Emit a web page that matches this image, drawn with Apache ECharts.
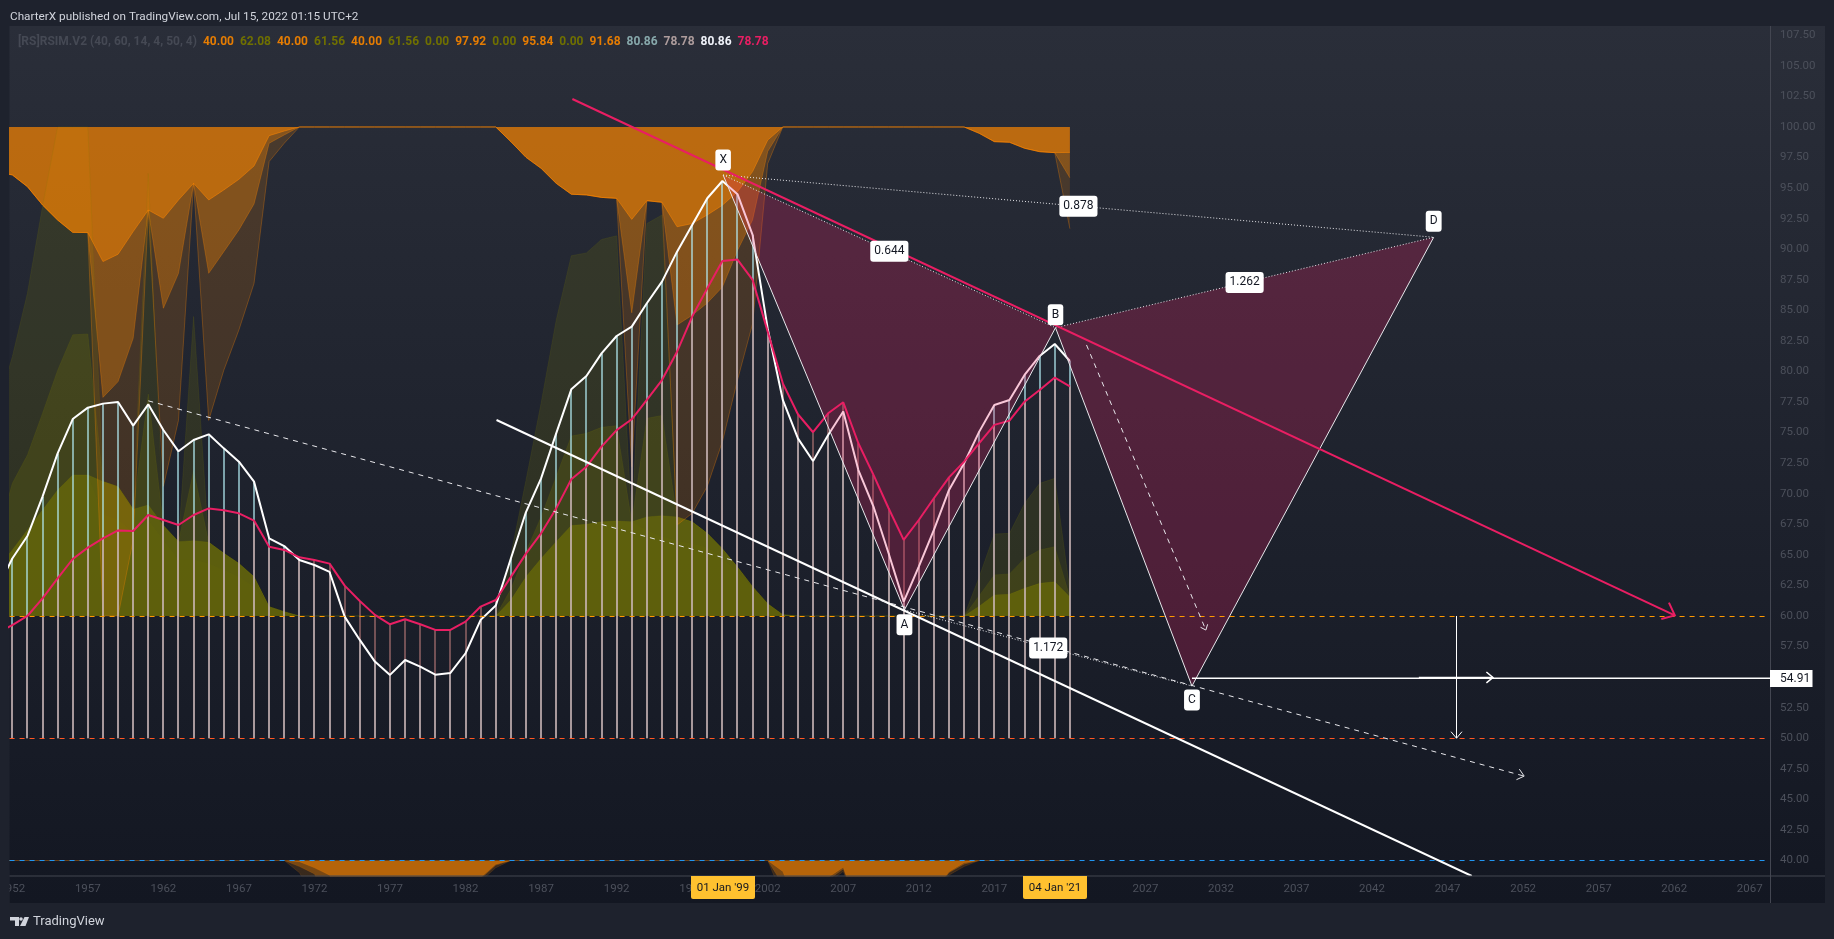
<!DOCTYPE html>
<html><head><meta charset="utf-8">
<style>html,body{margin:0;padding:0;background:#1e222d}#c{width:1834px;height:939px}</style>
<script src="https://cdn.jsdelivr.net/npm/echarts@6/dist/echarts.min.js"></script>
</head><body><div id="c"></div>
<script>
const firstYear = 1951;
const xTicks = [1952,1957,1962,1967,1972,1977,1982,1987,1992,1997,2002,2007,2012,2017,2022,2027,2032,2037,2042,2047,2052,2057,2062,2067];
const yTicks = [40,42.5,45,47.5,50,52.5,55,57.5,60,62.5,65,67.5,70,72.5,75,77.5,80,82.5,85,87.5,90,92.5,95,97.5,100,102.5,105,107.5];

const rsiWhite = [62.2, 64.7,66.54,69.76,73.3,76.11, 77.04,77.37,77.5,75.57,77.31, 75.21,73.47,74.39,74.86,73.71, 72.62,70.99,66.35,65.72,64.58, 64.17,63.6,59.95,58.04,56.27, 55.18,56.4,55.86,55.2,55.34, 56.95,59.68,60.85,64.7,68.5, 71.26,74.94,78.54,79.63,81.48, 82.9,83.67,85.58,87.35,89.8, 91.98,94.17,95.58,94.5,91.17, 83.5,77.67,74.53,72.68,74.8, 76.72,71.94,68.95,65.13,61.17, 64.04,67.04,70.31,72.49,75.08, 77.26,77.67,79.72,81.27,82.25, 80.86];
const rsiPink = [58.6, 59.26,60.0,61.44,63.08,64.66, 65.59,66.35,67.0,66.95,68.26, 67.85,67.44,68.26,68.8,68.64, 68.4,67.8,65.67,65.4,64.8, 64.58,64.28,62.48,61.22,60.09, 59.32,59.73,59.32,58.86,58.86, 59.54,60.77,61.31,63.2,65.1, 66.76,68.8,71.18,72.2,73.85, 75.2,76.09,77.67,79.3,81.62, 84.49,86.8,89.04,89.15,87.49, 83.26,79.03,76.5,75.03,76.58, 77.48,74.13,71.54,68.81,66.22, 67.85,69.63,71.34,72.63,74.13, 75.63,75.98,77.53,78.49,79.5, 78.78];

const topSolid = [96.3, 96.08,95.12,93.62,92.39,91.38, 91.36,88.99,89.59,91.44,93.21, 92.53,94.03,95.39,94.03,94.85, 95.72,96.81,99.29,99.67,100, 100,100,100,100,100, 100,100,100,100,100, 100,100,100,98.8,97.52, 96.62,95.39,94.5,94.44,94.24, 94.16,92.44,93.97,93.84,91.84, 92.1,92.8,93.6,94.7,96.35, 98.93,100,100,100,100, 100,100,100,100,100, 100,100,100,100,99.48, 98.8,98.75,98.26,97.98,97.9, 97.92];
const topMid = [96.3, 96.08,95.12,93.62,92.39,91.38, 91.36,77.88,79.17,82.71,93.21, 85.17,88.03,95.39,88.03,89.8, 91.58,93.7,98.67,99.35,100, 100,100,100,100,100, 100,100,100,100,100, 100,100,100,98.8,97.52, 96.62,95.39,94.5,94.44,94.24, 94.16,84.8,93.97,93.84,83.8, 84.6,85.6,86.9,89.9,92.4, 98,100,100,100,100, 100,100,100,100,100, 100,100,100,100,99.48, 98.8,98.75,98.26,97.98,97.9, 95.84];
const topOuter = [96.3, 96.08,95.12,93.62,92.39,91.38, 91.36,60,60,66.2,93.21, 70.6,76,95.39,76,80.1, 83.4,87.2,97.17,98.67,100, 100,100,100,100,100, 100,100,100,100,100, 100,100,100,98.8,97.52, 96.62,95.39,94.5,94.44,94.24, 94.16,72.2,93.97,93.84,67.44, 68.4,70.6,74.26,79.3,83.9, 97,100,100,100,100, 100,100,100,100,100, 100,100,100,100,99.48, 98.8,98.75,98.26,97.98,97.9, 91.68];

const oliveOuter = [77, 81.2,86.4,93.5,100,100, 100,71,70.58,68.73,96.2, 67.4,66.08,84.5,66.03,65.13, 64.3,63.2,60.76,60.35,60, 60,60,60,60,60, 60,60,60,60,60, 60,60,60,65,71.1, 77.4,84.2,89.47,89.7,90.8, 91.1,67.7,92.1,92.8,68.1, 67.7,66.76,65.5,64,62.4, 61,60.1,60,60,60, 60,60,60,60,60, 60,60,60,60,63.2, 66.7,66.76,69.2,70.85,71.26, 62.08];
const oliveMid = [66.4, 70.85,73.17,76.58,80.1,83, 83.07,71,70.58,68.73,78.16, 67.4,66.08,71.9,66.03,65.13, 64.3,63.2,60.76,60.35,60, 60,60,60,60,60, 60,60,60,60,60, 60,60,60,62.2,65.26, 68.1,71.4,74.72,74.94,75.43, 75.57,67.7,76.17,76.4,68.1, 67.7,66.76,65.5,64,62.4, 61,60.1,60,60,60, 60,60,60,60,60, 60,60,60,60,61.66, 63.36,63.44,64.7,65.4,65.67, 61.56];
const oliveInner = [63.9, 65.4,67.04,68.67,70.3,71.53, 71.53,71,70.58,68.73,69.08, 67.4,66.08,66.16,66.03,65.13, 64.3,63.2,60.76,60.35,60, 60,60,60,60,60, 60,60,60,60,60, 60,60,60,61.3,63.2, 64.7,66.08,67.4,67.5,67.7, 67.77,67.7,68.1,68.2,68.1, 67.7,66.76,65.5,64,62.4, 61,60.1,60,60,60, 60,60,60,60,60, 60,60,60,60,60.8, 61.72,61.77,62.26,62.67,62.8, 61.56];
const oliveCore = [63.9, 65.4,67.04,68.67,70.3,71.53, 71.53,68.3,67.9,66.8,67.85, 66.2,64.6,64.6,64.3,63.76, 63.2,62.4,60.7,60.35,60, 60,60,60,60,60, 60,60,60,60,60, 60,60,60,61.3,63.2, 64.7,66.08,67.4,67.5,67.7, 67.77,67.7,67,66.5,66.16, 65.9,65.6,64.7,63.6,62.3, 61,60.1,60,60,60, 60,60,60,60,60, 60,60,60,60,60.8, 61.72,61.77,62.26,62.67,62.8, 61.56];

const lowSolid = [40, 40,40,40,40,40, 40,40,40,40,40, 40,40,40,40,40, 40,40,40,40,39.9, 39.4,38.8,35,33,33, 33,33,33,33,33, 37,38.6,39.7,40,40, 40,40,40,40,40, 40,40,40,40,40, 40,40,40,40,40, 40,39.1,36,36,38.6, 39.45,36,34,34,34, 34,37.5,39.08,39.82,40, 40,40,40,40,40, 40];
const lowMid = [40, 40,40,40,40,40, 40,40,40,40,40, 40,40,40,40,40, 40,40,40,40,39.5, 38.9,36,35,33,33, 33,33,33,33,33, 37,38.5,39.6,40,40, 40,40,40,40,40, 40,40,40,40,40, 40,40,40,40,40, 40,38,36,36,38.4, 39.3,36,34,34,34, 34,37.2,39,39.7,40, 40,40,40,40,40, 40];
const lowOuter = [40, 40,40,40,40,40, 40,40,40,40,40, 40,40,40,40,40, 40,40,40,40,39, 37,34,33,33,33, 33,33,33,33,33, 37,38.3,39.4,40,40, 40,40,40,40,40, 40,40,40,40,40, 40,40,40,40,40, 40,37,36,36,38.2, 39.1,36,34,34,34, 34,37,38.8,39.5,40, 40,40,40,40,40, 40];

const pivotX = [1999.05, 96.07];
const pivotA = [2011.05, 60.5];
const pivotB = [2021.05, 83.58];
const pivotC = [2030.08, 54.27];
const pivotD = [2046.08, 90.98];
const pivotNames = ['X','A','B','C','D'];
const ratioNames = ['0.644','0.878','1.262','1.172'];

const trendPink = [1989.07,102.29,2062.04,60.05];
const trendWhite = [1984.05,76.03,2048.6,38.73];
const trendDashed = [1961.0,77.6,2052.07,46.9];
const dashedToC = [2023.1,82.17,2031.0,58.85];
const levelLine = [2030.08,54.91,2068.34,54.91];
const levelArrow = [2045.1,54.97,2050,54.97];
const dropArrow = [2047.57,60,2047.57,50];
const hLines = [[60,'#ff9800'],[50,'#ff5722'],[40,'#2196f3']];
const hLineEnd = [1951.82, 2068.0];

const legendName = '[RS]RSIM.V2 (40, 60, 14, 4, 50, 4)';
const legendValues = [['40.00','o'],['62.08','g'],['40.00','o'],['61.56','g'],['40.00','o'],['61.56','g'],['0.00','g'],['97.92','o'],['0.00','g'],['95.84','o'],['0.00','g'],['91.68','o'],['80.86','t'],['78.78','r'],['80.86','w'],['78.78','p']];
const headerText = 'CharterX published on TradingView.com, Jul 15, 2022 01:15 UTC+2';
const timeTags = [["01 Jan '99",723],["04 Jan '21",1055]];
const priceTag = '54.91';

const FONT = 'Roboto';
const years = rsiWhite.map((_,i)=>firstYear+i);
const zip = a => a.map((v,i)=>[years[i],v]);

function band(data, origin, rgb, alpha, lineAlpha){
  return {type:'line',data:zip(data),showSymbol:false,silent:true,z:2,
    lineStyle:{width:lineAlpha?1:0,color:`rgba(${rgb},${lineAlpha})`},
    areaStyle:{origin:origin,color:`rgba(${rgb},${alpha})`,opacity:1}};
}
function bars(data, color){
  return {type:'custom',data:zip(data),silent:true,z:3,clip:true,encode:{x:0,y:1},
    renderItem:(p,api)=>{
      const a=api.coord([api.value(0),50]), b=api.coord([api.value(0),api.value(1)]);
      return {type:'rect',shape:{x:Math.round(a[0])-1,y:b[1],width:2,height:a[1]-b[1]},style:{fill:color}};
    }};
}
function rsi(data,color){
  return {type:'line',data:zip(data),showSymbol:false,silent:true,z:4,lineStyle:{width:2,color:color}};
}
function polygon(pts,color){
  return {type:'custom',data:[pts.flat()],silent:true,z:5,clip:true,encode:{x:[0,2,4],y:[1,3,5]},
    renderItem:(p,api)=>({type:'polygon',shape:{points:pts.map(q=>api.coord(q))},style:{fill:color}})};
}
function seg(c,color,width,dash,head,z){
  return {type:'custom',data:[c],silent:true,z:z||6,clip:true,encode:{x:[0,2],y:[1,3]},
    renderItem:(p,api)=>{
      const a=api.coord([c[0],c[1]]), b=api.coord([c[2],c[3]]);
      if(c[1]===c[3]&&width===1){a[1]=b[1]=Math.round(a[1])+0.5;}
      if(c[0]===c[2]&&width===1){a[0]=b[0]=Math.round(a[0])+0.5;}
      const kids=[{type:'line',shape:{x1:a[0],y1:a[1],x2:b[0],y2:b[1]},
        style:{stroke:color,lineWidth:width,lineDash:dash||null,fill:null}}];
      if(head){
        const t=Math.atan2(a[1]-b[1],a[0]-b[0]), r=40*Math.PI/180;
        const q=s=>[b[0]+head*Math.cos(t+s*r),b[1]+head*Math.sin(t+s*r)];
        kids.push({type:'polyline',shape:{points:[q(1),b,q(-1)]},style:{stroke:color,lineWidth:width,fill:null}});
      }
      return {type:'group',children:kids};
    }};
}
const mid=(p,q)=>[(p[0]+q[0])/2,(p[1]+q[1])/2];
const tag={show:true,position:'inside',opacity:1,color:'#131722',fontFamily:FONT,fontSize:12,backgroundColor:'#ffffff',borderRadius:3,padding:[5,4,4,4]};
function labels(items){
  return {type:'scatter',symbolSize:0,silent:true,z:8,clip:false,itemStyle:{opacity:1},
    data:items.map(it=>({value:it[0],label:Object.assign({},tag,{formatter:it[1],offset:[0,it[2]]})}))};
}

const ORANGE='255,136,0';
const series=[
  band(oliveOuter,60,'128,128,0',0.18,0.15),
  band(oliveMid,60,'128,128,0',0.22,0.15),
  band(oliveInner,60,'128,128,0',0.45,0.2),
  band(oliveCore,60,'128,128,0',0.08,0),
  band(topOuter,100,ORANGE,0.16,0.3),
  band(topMid,100,ORANGE,0.32,0.3),
  band(topSolid,100,ORANGE,0.45,0.5),
  band(lowOuter,40,ORANGE,0.16,0.12),
  band(lowMid,40,ORANGE,0.32,0.12),
  band(lowSolid,40,ORANGE,0.45,0.2),
  bars(rsiWhite,'rgba(178,235,242,0.64)'),
  bars(rsiPink,'rgba(225,145,140,0.45)'),
  rsi(rsiWhite,'#ffffff'),
  rsi(rsiPink,'#e91e63'),
  polygon([pivotX,pivotA,pivotB],'rgba(233,30,99,0.25)'),
  polygon([pivotB,pivotC,pivotD],'rgba(233,30,99,0.25)'),
];
hLines.forEach(h=>series.push(seg([hLineEnd[0],h[0],hLineEnd[1],h[0]],h[1],1,[5,5],0,5)));
[[pivotX,pivotA],[pivotA,pivotB],[pivotB,pivotC],[pivotC,pivotD]].forEach(s=>series.push(seg([...s[0],...s[1]],'#e8e8ec',1)));
[[pivotX,pivotB],[pivotB,pivotD],[pivotX,pivotD],[pivotA,pivotC]].forEach(s=>series.push(seg([...s[0],...s[1]],'#e8e8ec',1,[1,2])));
series.push(seg(trendPink,'#e91e63',2,null,14,7));
series.push(seg(trendWhite,'#ffffff',2,null,0,6));
series.push(seg(trendDashed,'#e8e8ec',1,[5,5],8.5));
series.push(seg(dashedToC,'#e8e8ec',1,[5,5],6));
series.push(seg(levelLine,'#ffffff',1.5));
series.push(seg(levelArrow,'#ffffff',1.5,null,8.5));
series.push(seg(dropArrow,'#ffffff',1,null,8.5));
series.push(labels([
  [pivotX,pivotNames[0],-15],[pivotA,pivotNames[1],15],[pivotB,pivotNames[2],-13],[pivotC,pivotNames[3],14],[pivotD,pivotNames[4],-16],
  [mid(pivotX,pivotB),ratioNames[0],0],[mid(pivotX,pivotD),ratioNames[1],0],[mid(pivotB,pivotD),ratioNames[2],0],[mid(pivotA,pivotC),ratioNames[3],0]
]));

const legendColors={o:'#e57c02',g:'#6f7000',t:'#87a8ab',r:'#ad9c9c',w:'#f0f3fa',p:'#e91e63'};
const rich={n:{fontFamily:FONT,fontSize:12,color:'#454954',padding:[0,6,0,0]}};
Object.keys(legendColors).forEach(k=>rich[k]={fontFamily:FONT,fontSize:12,color:legendColors[k],padding:[0,6,0,0]});
const legendText='{n|'+legendName+'}'+legendValues.map(v=>`{${v[1]}|${v[0]}}`).join('');

const txt=(x,y,t,fill,size,extra)=>({type:'text',x,y,z:30,silent:true,style:Object.assign({text:t,fill,fontFamily:FONT,fontSize:size,verticalAlign:'middle'},extra||{})});
const graphic=[
  {type:'rect',z:-10,silent:true,shape:{x:9.5,y:26,width:1815.5,height:877},
   style:{fill:new echarts.graphic.LinearGradient(0,0,0,1,[{offset:0,color:'#2a2e39'},{offset:1,color:'#131722'}])}},
  {type:'rect',z:20,silent:true,shape:{x:0,y:870,width:9.5,height:40},style:{fill:'#1e222d'}},
  {type:'rect',z:20,silent:true,shape:{x:9.5,y:875.5,width:1815.5,height:1},style:{fill:'#434651'}},
  {type:'rect',z:20,silent:true,shape:{x:1770,y:26,width:1,height:877},style:{fill:'#434651'}},
  txt(10,17,headerText,'#d1d4dc',11.75),
  {type:'rect',z:25,silent:true,shape:{x:1770,y:670,width:42.5,height:17},style:{fill:'#ffffff'}},
  txt(1780,679,priceTag,'#131722',12),
  {type:'polygon',z:30,silent:true,shape:{points:[[10,917],[19,917],[19,926],[15,926],[15,920.5],[10,920.5]]},style:{fill:'#d1d4dc'}},
  {type:'circle',z:30,silent:true,shape:{cx:21,cy:919,r:1.8},style:{fill:'#d1d4dc'}},
  {type:'polygon',z:30,silent:true,shape:{points:[[24.5,917],[29,917],[25.5,926],[20,926]]},style:{fill:'#d1d4dc'}},
  txt(33,921.5,'TradingView','#d1d4dc',13)
];
timeTags.forEach(t=>{
  graphic.push({type:'rect',z:25,silent:true,shape:{x:t[1]-32,y:876,width:64,height:23,r:[0,0,2,2]},style:{fill:'#ffc12f'}});
  graphic.push(txt(t[1],888,t[0],'#131722',11.5,{align:'center'}));
});

const chart=echarts.init(document.getElementById('c'),null,{renderer:'canvas'});
chart.setOption({
  animation:false,
  backgroundColor:'#1e222d',
  title:{text:legendText,left:18,top:36,padding:0,textStyle:{rich}},
  grid:{left:9.5,top:26,right:64,bottom:63,containLabel:false,outerBoundsMode:'none'},
  xAxis:{type:'value',min:1951.815,max:2068.34,splitLine:{show:false},axisLine:{show:false},axisTick:{show:false},
    axisLabel:{customValues:xTicks,color:'#4c505b',fontFamily:FONT,fontSize:11.5,margin:7,hideOverlap:false,formatter:v=>String(v)}},
  yAxis:{type:'value',position:'right',min:38.73,max:108.26,splitLine:{show:false},axisLine:{show:false},axisTick:{show:false},
    axisLabel:{customValues:yTicks,color:'#4c505b',fontFamily:FONT,fontSize:11.5,margin:10,hideOverlap:false,formatter:v=>v.toFixed(2)}},
  graphic:graphic,
  series:series
});
</script></body></html>
